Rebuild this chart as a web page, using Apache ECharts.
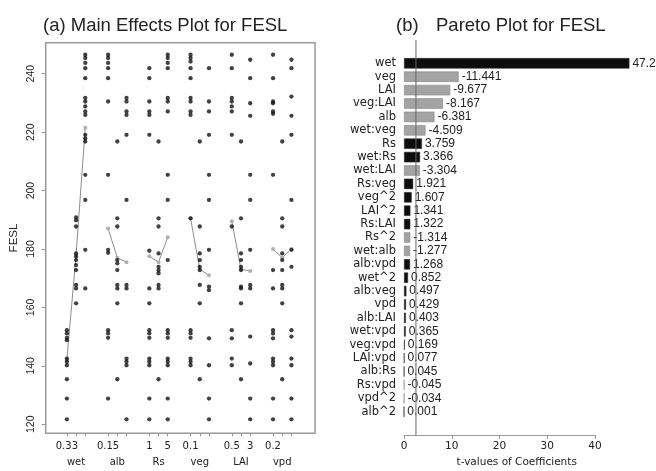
<!DOCTYPE html>
<html><head><meta charset="utf-8">
<script src="https://cdn.jsdelivr.net/npm/echarts@6/dist/echarts.min.js"></script>
<style>html,body{margin:0;padding:0;background:#fff}#c{width:656px;height:471px}</style>
</head><body><div id="c"></div><script>
// ---------- Panel (a): main effects ----------
const factors = ['wet', 'alb', 'Rs', 'veg', 'LAI', 'vpd'];
const levelTickLabels = [['0.33', '', ''], ['0.15', '', ''], ['1', '', '5'], ['0.1', '', ''], ['0.5', '', '3'], ['0.2', '', '']];
const feslTicks = [120, 140, 160, 180, 200, 220, 240];

const wetPoints = [
  [152.2, 151.1, 149.6, 148.8, 142.5, 141.4, 140.2, 135.4, 128.8, 121.7],
  [190.8, 189.8, 187.7, 178.5, 177.4, 176.2, 174.5, 172.8, 167.7, 166.5, 161.4],
  [246.5, 245.4, 243.7, 241.9, 238.5, 231.7, 230.5, 228.8, 227.1, 225.9, 219.1, 217.9, 216.8, 205.4, 196.8, 179.7, 166.5]
];
const albPoints = [
  [246.5, 245.4, 243.7, 241.9, 238.5, 230.5, 205.4, 179.7, 178.7, 152.2, 151.1, 149.6, 128.8],
  [216.8, 190.5, 187.7, 176.2, 175.1, 172.8, 167.7, 166.5, 161.4, 135.4],
  [231.7, 230.5, 227.1, 225.9, 219.1, 196.8, 167.7, 166.5, 142.5, 141.4, 140.2, 121.7]
];
const rsPoints = [
  [241.9, 238.5, 230.5, 227.1, 225.9, 219.1, 179.4, 166.5, 161.4, 152.2, 151.1, 149.6, 142.5, 141.4, 140.2, 128.8, 121.7],
  [216.8, 190.5, 187.7, 178.5, 173.9, 172.8, 171.7, 167.7, 166.5, 135.4],
  [246.5, 245.4, 243.7, 241.9, 231.7, 230.5, 227.1, 205.4, 196.8, 176.2, 152.2, 151.1, 149.6, 142.5, 141.4, 140.2, 128.8, 121.7]
];
const vegPoints = [
  [246.5, 245.4, 244.2, 241.9, 238.5, 231.7, 230.5, 227.1, 225.9, 190.5, 152.2, 151.1, 149.6, 142.5, 141.4, 140.2],
  [216.8, 187.7, 178.5, 176.2, 173.9, 172.8, 167.7, 161.4, 135.4],
  [241.9, 230.5, 227.1, 219.1, 205.4, 196.8, 179.7, 167.1, 165.9, 149.4, 140.2, 128.8, 121.7]
];
const laiPoints = [
  [246.5, 241.9, 231.7, 230.5, 228.8, 227.1, 219.1, 187.7, 152.2, 149.4, 142.5, 140.2],
  [216.8, 190.5, 178.5, 176.2, 173.9, 172.8, 167.1, 166.5, 161.4, 135.4],
  [244.8, 238.5, 229.9, 225.6, 205.4, 196.8, 179.7, 167.7, 166.5, 150.0, 140.8, 128.8, 121.7]
];
const vpdPoints = [
  [246.5, 238.5, 230.5, 229.9, 227.1, 226.3, 205.4, 172.8, 166.5, 152.2, 151.1, 149.4, 142.5, 141.4, 140.2, 128.8, 121.7],
  [216.8, 190.5, 187.7, 178.5, 176.2, 172.8, 167.7, 166.5, 161.4, 135.4],
  [244.8, 241.9, 232.2, 225.6, 219.1, 196.8, 179.7, 173.9, 152.2, 150.0, 142.5, 140.2, 128.8, 121.7]
];
const wetMeans = [142, 178, 221.5];
const albMeans = [187, 177, 175.5];
const rsMeans = [177.5, 175.5, 184];
const vegMeans = [190.5, 173, 171];
const laiMeans = [189.5, 173, 172.5];
const vpdMeans = [180, 177, 180];

// ---------- Panel (b): Pareto ----------
const paretoTerms = ['wet', 'veg', 'LAI', 'veg:LAI', 'alb', 'wet:veg', 'Rs', 'wet:Rs', 'wet:LAI', 'Rs:veg', 'veg^2', 'LAI^2', 'Rs:LAI', 'Rs^2', 'wet:alb', 'alb:vpd', 'wet^2', 'alb:veg', 'vpd', 'alb:LAI', 'wet:vpd', 'veg:vpd', 'LAI:vpd', 'alb:Rs', 'Rs:vpd', 'vpd^2', 'alb^2'];
const paretoT = [47.2, -11.441, -9.677, -8.167, -6.381, -4.509, 3.759, 3.366, -3.304, 1.921, 1.607, 1.341, 1.322, -1.314, -1.277, 1.268, 0.852, 0.497, 0.429, 0.403, 0.365, 0.169, 0.077, 0.045, -0.045, -0.034, 0.001];
const paretoTicks = [0, 10, 20, 30, 40];
const tCritical = 2.5;

// ---------- layout helpers ----------
const pointsByFactor = [wetPoints, albPoints, rsPoints, vegPoints, laiPoints, vpdPoints];
const meansByFactor = [wetMeans, albMeans, rsMeans, vegMeans, laiMeans, vpdMeans];
const groupStep = 4.48;
const pos = (g, l) => g * groupStep + l;

const scatterData = [];
pointsByFactor.forEach((levels, g) => levels.forEach((vals, l) => vals.forEach(v => scatterData.push([pos(g, l), v]))));

const tickPositions = [];
const levelLabelMap = {};
levelTickLabels.forEach((labs, g) => labs.forEach((lab, l) => {
  tickPositions.push(pos(g, l));
  if (lab) levelLabelMap[pos(g, l).toFixed(3)] = lab;
}));
const levelLabelPositions = Object.keys(levelLabelMap).map(Number);
const namePositions = factors.map((f, g) => pos(g, 1));
const nameMap = {};
factors.forEach((f, g) => nameMap[pos(g, 1).toFixed(3)] = f);

const grey = '#a3a3a3';
const txt = '#222';
const meanSeries = meansByFactor.map((m, g) => ({
  type: 'line', xAxisIndex: 0, yAxisIndex: 0,
  data: m.map((v, l) => [pos(g, l), v]),
  symbol: 'circle', symbolSize: 4,
  itemStyle: { color: '#b0b0b0' },
  lineStyle: { color: '#8c8c8c', width: 1 },
  z: 3, silent: true, animation: false
}));

const chart = echarts.init(document.getElementById('c'), null, { renderer: 'canvas' });
chart.setOption({
  animation: false,
  backgroundColor: '#fff',
  title: [
    { text: '(a) Main Effects Plot for FESL', left: 38, top: 11, textStyle: { fontFamily: 'Liberation Sans', fontWeight: 'normal', fontSize: 18.5, color: txt } },
    { text: '(b)', left: 391, top: 11, textStyle: { fontFamily: 'Liberation Sans', fontWeight: 'normal', fontSize: 18.5, color: txt } },
    { text: 'Pareto Plot for FESL', left: 431, top: 11, textStyle: { fontFamily: 'Liberation Sans', fontWeight: 'normal', fontSize: 18.5, color: txt } }
  ],
  grid: [
    { left: 45.7, top: 42.7, width: 269.3, height: 390.6, show: true, borderColor: '#9a9a9a', borderWidth: 1.5, backgroundColor: 'transparent', outerBoundsMode: 'none' },
    { left: 404, top: 56.6, width: 225.4, height: 361.8, outerBoundsMode: 'none' },
    { left: 404, top: 40, width: 191, height: 395, outerBoundsMode: 'none' }
  ],
  xAxis: [
    { gridIndex: 0, type: 'value', min: -2.3, max: 26.96, splitLine: { show: false }, axisLine: { show: false, onZero: false },
      axisTick: { show: true, customValues: tickPositions, length: 3, lineStyle: { color: '#999' } },
      axisLabel: { customValues: levelLabelPositions, margin: 8, fontFamily: 'DejaVu Sans', fontSize: 10, color: txt,
        formatter: v => levelLabelMap[Number(v).toFixed(3)] || '' } },
    { gridIndex: 0, type: 'value', position: 'bottom', offset: 16, min: -2.3, max: 26.96, splitLine: { show: false }, axisLine: { show: false, onZero: false },
      axisTick: { show: false },
      axisLabel: { customValues: namePositions, margin: 8, fontFamily: 'DejaVu Sans', fontSize: 10, color: txt,
        formatter: v => nameMap[Number(v).toFixed(3)] || '' } },
    { gridIndex: 1, type: 'value', min: 0, max: 47.2, splitLine: { show: false }, axisLine: { show: false, onZero: false }, axisTick: { show: false }, axisLabel: { show: false },
      name: 't-values of Coefficients', nameLocation: 'middle', nameGap: 38,
      nameTextStyle: { fontFamily: 'DejaVu Sans', fontSize: 10.5, color: txt } },
    { gridIndex: 2, type: 'value', min: 0, max: 40, interval: 10, splitLine: { show: false },
      axisLine: { show: true, onZero: false, lineStyle: { color: '#999', width: 1 } },
      axisTick: { show: true, length: 4, lineStyle: { color: '#999' } },
      axisLabel: { margin: 6, fontFamily: 'DejaVu Sans', fontSize: 10.5, color: txt } }
  ],
  yAxis: [
    { gridIndex: 0, type: 'value', min: 116.9, max: 250.63, splitLine: { show: false }, axisLine: { show: false, onZero: false },
      axisTick: { show: true, customValues: feslTicks, length: 4, lineStyle: { color: '#999' } },
      axisLabel: { customValues: feslTicks, rotate: 90, margin: 9, fontFamily: 'Liberation Sans', fontSize: 10.5, color: txt },
      name: 'FESL', nameLocation: 'middle', nameRotate: 90, nameGap: 26,
      nameTextStyle: { fontFamily: 'Liberation Sans', fontSize: 11.5, color: txt } },
    { gridIndex: 1, type: 'category', data: paretoTerms, inverse: true, axisLine: { show: false, onZero: false }, axisTick: { show: false },
      splitLine: { show: false },
      axisLabel: { margin: 8, fontFamily: 'DejaVu Sans', fontSize: 11.5, color: txt, interval: 0 } },
    { gridIndex: 2, type: 'value', min: 0, max: 1, show: false }
  ],
  series: [
    { type: 'scatter', xAxisIndex: 0, yAxisIndex: 0, data: scatterData, symbol: 'circle', symbolSize: 4.3,
      itemStyle: { color: '#111' }, z: 4, silent: true },
    ...meanSeries,
    { type: 'bar', xAxisIndex: 2, yAxisIndex: 1, barWidth: 10.5,
      data: paretoT.map(v => ({ value: Math.abs(v), itemStyle: { color: v < 0 ? grey : '#0d0d0d', borderColor: v < 0 ? '#8a8a8a' : '#333', borderWidth: 0.6 } })),
      label: { show: true, position: 'right', distance: 3, fontFamily: 'Liberation Sans', fontSize: 12, color: txt,
        formatter: p => String(paretoT[p.dataIndex]) },
      silent: true },
    { type: 'line', xAxisIndex: 3, yAxisIndex: 2, data: [[tCritical, 0], [tCritical, 1]], symbol: 'none',
      lineStyle: { color: '#666', width: 1 }, z: 5, silent: true }
  ]
});
</script></body></html>
